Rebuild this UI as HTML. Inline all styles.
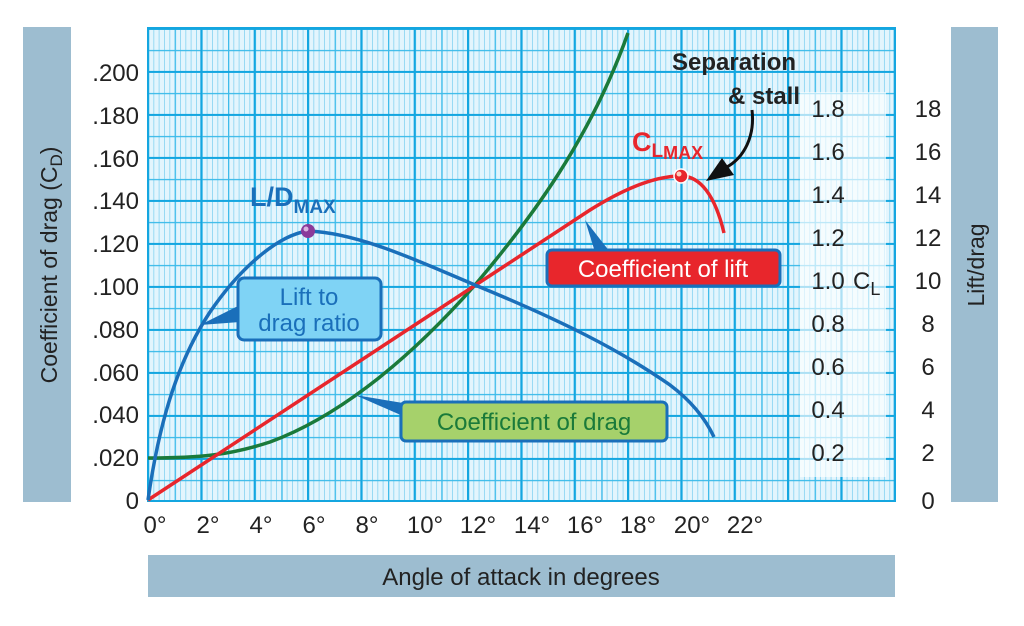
<!DOCTYPE html>
<html><head><meta charset="utf-8"><style>
html,body{margin:0;padding:0;background:#fff;}
svg{display:block;font-family:"Liberation Sans",Arial,sans-serif;}
</style></head><body>
<svg width="1024" height="626" viewBox="0 0 1024 626" xmlns="http://www.w3.org/2000/svg">
<defs>
<pattern id="vthin" x="148" y="0" width="5.333" height="10" patternUnits="userSpaceOnUse">
<rect x="0" y="0" width="0.9" height="10" fill="#8fd6f2"/></pattern>
<pattern id="vmed" x="148" y="0" width="26.667" height="10" patternUnits="userSpaceOnUse">
<rect x="0" y="0" width="1.3" height="10" fill="#3dbbea"/></pattern>
<pattern id="vmaj" x="147" y="0" width="53.333" height="10" patternUnits="userSpaceOnUse">
<rect x="0" y="0" width="2" height="10" fill="#14a6e0"/></pattern>
<pattern id="hmin" x="0" y="28.4" width="10" height="21.5" patternUnits="userSpaceOnUse">
<rect x="0" y="0" width="10" height="1.3" fill="#3dbbea"/></pattern>
<pattern id="hmaj" x="0" y="27.9" width="10" height="43" patternUnits="userSpaceOnUse">
<rect x="0" y="0" width="10" height="2" fill="#14a6e0"/></pattern>
</defs>
<rect x="23" y="27" width="48" height="475" fill="#9dbdd0"/>
<rect x="951" y="27" width="47" height="475" fill="#9dbdd0"/>
<rect x="148" y="555" width="747" height="42" fill="#9dbdd0"/>
<rect x="148" y="28" width="747" height="473" fill="#e3f5fd"/>
<rect x="148" y="28" width="747" height="473" fill="url(#vthin)"/>
<rect x="148" y="28" width="747" height="473" fill="url(#hmin)"/>
<rect x="148" y="28" width="747" height="473" fill="url(#vmed)"/>
<rect x="148" y="28" width="747" height="473" fill="url(#vmaj)"/>
<rect x="148" y="28" width="747" height="473" fill="url(#hmaj)"/>
<rect x="800" y="92" width="86" height="385" fill="#ffffff" opacity="0.65"/>
<rect x="148" y="28" width="747" height="473" fill="none" stroke="#14a6e0" stroke-width="2"/>
<g font-size="24" fill="#222" text-anchor="end">
<text x="139" y="81">.200</text><text x="139" y="124">.180</text><text x="139" y="167">.160</text>
<text x="139" y="209">.140</text><text x="139" y="252">.120</text><text x="139" y="295">.100</text>
<text x="139" y="338">.080</text><text x="139" y="381">.060</text><text x="139" y="423">.040</text>
<text x="139" y="466">.020</text><text x="139" y="509">0</text>
</g>
<text transform="translate(57,265) rotate(-90)" font-size="23" fill="#222" text-anchor="middle">Coefficient of drag (C<tspan font-size="17" dy="5">D</tspan><tspan dy="-5">)</tspan></text>
<text transform="translate(984,265) rotate(-90)" font-size="23" fill="#222" text-anchor="middle">Lift/drag</text>
<text x="521" y="585" font-size="24" fill="#222" text-anchor="middle">Angle of attack in degrees</text>
<g font-size="24" fill="#222" text-anchor="middle">
<text x="155" y="533">0°</text><text x="208" y="533">2°</text><text x="261" y="533">4°</text>
<text x="314" y="533">6°</text><text x="367" y="533">8°</text><text x="425" y="533">10°</text>
<text x="478" y="533">12°</text><text x="532" y="533">14°</text><text x="585" y="533">16°</text>
<text x="638" y="533">18°</text><text x="692" y="533">20°</text><text x="745" y="533">22°</text>
</g>
<g font-size="24" fill="#222" text-anchor="middle">
<text x="828" y="117">1.8</text><text x="828" y="160">1.6</text><text x="828" y="203">1.4</text>
<text x="828" y="246">1.2</text><text x="828" y="289">1.0</text><text x="828" y="332">0.8</text>
<text x="828" y="375">0.6</text><text x="828" y="418">0.4</text><text x="828" y="461">0.2</text>
</g>
<text x="853" y="289" font-size="24" fill="#222">C<tspan font-size="18" dy="6">L</tspan></text>
<g font-size="24" fill="#222" text-anchor="middle">
<text x="928" y="117">18</text><text x="928" y="160">16</text><text x="928" y="203">14</text>
<text x="928" y="246">12</text><text x="928" y="289">10</text><text x="928" y="332">8</text>
<text x="928" y="375">6</text><text x="928" y="418">4</text><text x="928" y="461">2</text>
<text x="928" y="509">0</text>
</g>
<path d="M148,458 C200,458 230,455 270,442 C330,420 400,370 475,285 C530,220 590,140 628,33" fill="none" stroke="#1a7a3a" stroke-width="3.5"/>
<path d="M148,500 L590,210 C625,188 655,176 681,176 C700,176 715,195 724,233" fill="none" stroke="#e8262c" stroke-width="3.5"/>
<path d="M148,500 C158,430 175,365 210,312 C240,268 278,235 308,231 C360,233 420,262 475,285 C560,320 620,350 670,385 C690,400 705,418 714,437" fill="none" stroke="#1a6fba" stroke-width="3.5"/>
<circle cx="308" cy="231" r="7" fill="#8a3a9a"/><circle cx="306" cy="229" r="2.5" fill="#d9b3e0"/>
<circle cx="681" cy="176" r="7" fill="#e8262c" stroke="#fff" stroke-width="1.5"/><circle cx="679" cy="174" r="2.5" fill="#fbd0c0"/>
<text x="250" y="206" font-size="27" font-weight="bold" fill="#1a6fba">L/D<tspan font-size="19" dy="7">MAX</tspan></text>
<text x="632" y="151" font-size="27" font-weight="bold" fill="#e8262c">C<tspan font-size="19" dy="6">L</tspan><tspan font-size="18" dy="2">MAX</tspan></text>
<text x="734" y="70" font-size="24" font-weight="bold" fill="#222" text-anchor="middle">Separation</text>
<text x="764" y="104" font-size="24" font-weight="bold" fill="#222" text-anchor="middle">&amp; stall</text>
<path d="M752,110 C755,135 745,158 725,168" fill="none" stroke="#111" stroke-width="3"/>
<polygon points="706,181 722,158 734,175" fill="#111"/>
<polygon points="200,325 240,305 240,322" fill="#1a6fba"/>
<rect x="238" y="278" width="143" height="62" rx="6" fill="#7fd3f5" stroke="#1a6fba" stroke-width="3"/>
<text x="309" y="305" font-size="24" fill="#1a6fba" text-anchor="middle">Lift to</text>
<text x="309" y="331" font-size="24" fill="#1a6fba" text-anchor="middle">drag ratio</text>
<polygon points="585,220 595,252 610,252" fill="#1a6fba"/>
<rect x="547" y="250" width="233" height="36" rx="5" fill="#e8262c" stroke="#1a6fba" stroke-width="3"/>
<text x="663" y="277" font-size="24" fill="#fff" text-anchor="middle">Coefficient of lift</text>
<polygon points="355,395 403,403 403,416" fill="#1a6fba"/>
<rect x="401" y="402" width="266" height="39" rx="5" fill="#a6d16b" stroke="#1a6fba" stroke-width="3"/>
<text x="534" y="430" font-size="24" fill="#1a7a3a" text-anchor="middle">Coefficient of drag</text>
</svg>
</body></html>
